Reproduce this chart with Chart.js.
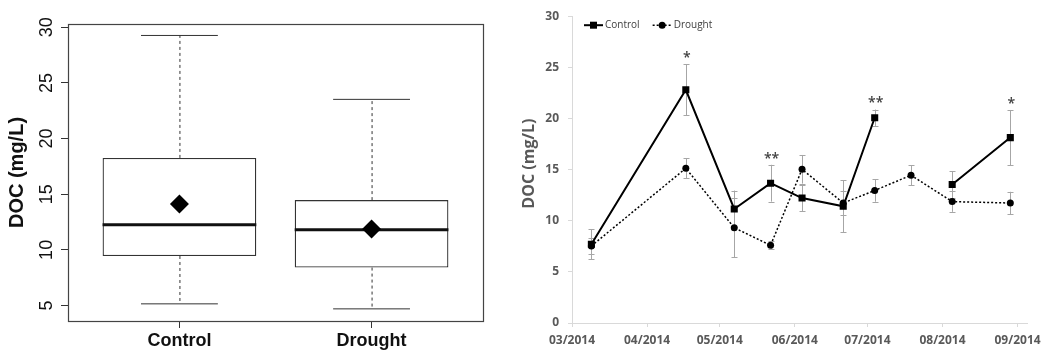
<!DOCTYPE html>
<html>
<head>
<meta charset="utf-8">
<script src="https://cdn.jsdelivr.net/npm/chart.js@4/dist/chart.umd.min.js"></script>
<style>
html, body { margin: 0; padding: 0; background: #fff; }
#wrap { position: relative; width: 1047px; height: 351px; overflow: hidden; }
#boxWrap { position: absolute; left: 0; top: 0; }
#lineWrap { position: absolute; left: 490px; top: 0; }
</style>
</head>
<body>
<div id="wrap">
  <div id="boxWrap"><canvas id="boxChart" width="495" height="351"></canvas></div>
  <div id="lineWrap"><canvas id="lineChart" width="557" height="351"></canvas></div>
</div>
<script>
// ---- left panel: boxplot of all samples ----
const groups = ['Control', 'Drought'];
const boxLow = [5.15, 4.70];     // lower whisker
const boxQ1 = [9.45, 8.41];
const boxMedian = [12.26, 11.81];
const boxQ3 = [18.26, 14.47];
const boxHigh = [29.26, 23.52];  // upper whisker
const boxMean = [14.11, 11.87];
const boxTicks = [5, 10, 15, 20, 25, 30];

// ---- right panel: time series with error bars ----
const sampleDates = ['2014-03-09', '2014-04-17', '2014-05-07', '2014-05-22', '2014-06-04',
                     '2014-06-21', '2014-07-04', '2014-07-19', '2014-08-05', '2014-08-29'];
const controlDoc = [7.70, 22.80, 11.15, 13.67, 12.22, 11.41, 20.07, null, 13.55, 18.13];
const controlErr = [1.45, 2.50, 1.80, 1.80, 1.30, 2.55, 0.80, null, 1.30, 2.70];
const droughtDoc = [7.53, 15.13, 9.31, 7.60, 15.03, 11.73, 12.96, 14.45, 11.87, 11.73];
const droughtErr = [0.75, 1.00, 2.90, 0.40, 1.40, 1.20, 1.10, 0.97, 1.00, 1.10];
const monthStarts = ['2014-03-01', '2014-04-01', '2014-05-01', '2014-06-01', '2014-07-01', '2014-08-01', '2014-09-01'];
const monthLabels = ['03/2014', '04/2014', '05/2014', '06/2014', '07/2014', '08/2014', '09/2014'];
const axisEnd = '2014-09-05';
const starIndex = [1, 3, 6, 9];
const starText = ['*', '**', '**', '*'];
const starLevel = [26.2, 16.3, 21.8, 21.7];

// days since the start of the axis (1 March)
function dayOf(s) {
    return (Date.parse(s) - Date.parse(monthStarts[0])) / 86400000;
}

// ======== boxplot ========
const boxExtras = {
    id: 'boxExtras',
    afterDatasetDraw(chart, args) {
        if (args.index !== 0) return; // right after the boxes
        const ctx = chart.ctx;
        const xs = chart.scales.x, ys = chart.scales.y;
        const bars = chart.getDatasetMeta(0).data;
        ctx.save();
        groups.forEach((g, i) => {
            const cx = xs.getPixelForValue(i + 1);
            const capL = xs.getPixelForValue(i + 0.8), capR = xs.getPixelForValue(i + 1.2);
            ctx.strokeStyle = '#333';
            ctx.lineWidth = 1;
            ctx.setLineDash([3, 3]);
            ctx.beginPath();
            ctx.moveTo(cx + 0.5, ys.getPixelForValue(boxQ3[i]));
            ctx.lineTo(cx + 0.5, ys.getPixelForValue(boxHigh[i]));
            ctx.moveTo(cx + 0.5, ys.getPixelForValue(boxQ1[i]));
            ctx.lineTo(cx + 0.5, ys.getPixelForValue(boxLow[i]));
            ctx.stroke();
            ctx.setLineDash([]);
            ctx.beginPath();
            ctx.moveTo(capL, ys.getPixelForValue(boxHigh[i]));
            ctx.lineTo(capR, ys.getPixelForValue(boxHigh[i]));
            ctx.moveTo(capL, ys.getPixelForValue(boxLow[i]));
            ctx.lineTo(capR, ys.getPixelForValue(boxLow[i]));
            ctx.stroke();
            // median
            const b = bars[i];
            ctx.strokeStyle = '#111';
            ctx.lineWidth = 3;
            ctx.beginPath();
            ctx.moveTo(b.x - b.width / 2, ys.getPixelForValue(boxMedian[i]));
            ctx.lineTo(b.x + b.width / 2, ys.getPixelForValue(boxMedian[i]));
            ctx.stroke();
        });
        ctx.restore();
    },
    afterDraw(chart) {
        const ctx = chart.ctx;
        const a = chart.chartArea;
        const ys = chart.scales.y;
        ctx.save();
        // frame round the plot
        ctx.strokeStyle = '#444';
        ctx.lineWidth = 1.2;
        ctx.strokeRect(a.left + 0.5, a.top + 0.5, a.right - a.left, a.bottom - a.top);
        // rotated y tick labels
        ctx.fillStyle = '#111';
        ctx.font = '18px "Liberation Sans"';
        ctx.textAlign = 'center';
        ctx.textBaseline = 'middle';
        boxTicks.forEach(v => {
            ctx.save();
            ctx.translate(a.left - 21, ys.getPixelForValue(v));
            ctx.rotate(-Math.PI / 2);
            ctx.fillText(String(v), 0, 0);
            ctx.restore();
        });
        // y title
        ctx.font = 'bold 20px "Liberation Sans"';
        ctx.translate(17, (a.top + a.bottom) / 2);
        ctx.rotate(-Math.PI / 2);
        ctx.fillText('DOC (mg/L)', 0, 0);
        ctx.restore();
    }
};

new Chart(document.getElementById('boxChart'), {
    type: 'bar',
    data: {
        datasets: [{
            data: groups.map((g, i) => ({ x: i + 1, y: [boxQ1[i], boxQ3[i]] })),
            backgroundColor: '#fff',
            borderColor: '#333',
            borderWidth: 1.3,
            borderSkipped: false,
            barPercentage: 1,
            categoryPercentage: 0.8,
            order: 2
        }, {
            type: 'scatter',
            data: groups.map((g, i) => ({ x: i + 1, y: boxMean[i] })),
            pointStyle: 'rectRot',
            pointRadius: 9.5,
            backgroundColor: '#000',
            borderColor: '#000',
            borderWidth: 0,
            order: 1
        }]
    },
    options: {
        responsive: false,
        animation: false,
        layout: { padding: { top: 24, right: 12, left: 0, bottom: 0 } },
        plugins: { legend: { display: false }, tooltip: { enabled: false } },
        scales: {
            x: {
                type: 'linear',
                min: 0.42,
                max: 2.58,
                offset: false,
                afterBuildTicks: s => { s.ticks = groups.map((g, i) => ({ value: i + 1 })); },
                afterFit: s => { s.height = 30; },
                ticks: {
                    callback: (v, i) => groups[i],
                    color: '#111',
                    font: { family: 'Liberation Sans', size: 18, weight: 'bold' },
                    padding: 2,
                    maxRotation: 0,
                    autoSkip: false
                },
                grid: { display: true, offset: false, drawOnChartArea: false, drawTicks: true, tickLength: 7, color: '#333' },
                border: { display: false }
            },
            y: {
                min: 3.61,
                max: 30.29,
                afterBuildTicks: s => { s.ticks = boxTicks.map(v => ({ value: v })); },
                afterFit: s => { s.width = 68; },
                ticks: { display: false },
                grid: { display: true, drawOnChartArea: false, drawTicks: true, tickLength: 7, color: '#333' },
                border: { display: false }
            }
        }
    },
    plugins: [boxExtras]
});

// ======== time series ========
const lineExtras = {
    id: 'lineExtras',
    beforeDatasetsDraw(chart) {
        // error bars under the markers
        const ctx = chart.ctx;
        const xs = chart.scales.x, ys = chart.scales.y;
        ctx.save();
        ctx.strokeStyle = '#a6a6a6';
        ctx.lineWidth = 1;
        [[controlDoc, controlErr], [droughtDoc, droughtErr]].forEach(([vals, errs]) => {
            vals.forEach((v, i) => {
                if (v === null) return;
                const x = Math.round(xs.getPixelForValue(dayOf(sampleDates[i]))) + 0.5;
                const y1 = ys.getPixelForValue(v + errs[i]);
                const y2 = ys.getPixelForValue(v - errs[i]);
                ctx.beginPath();
                ctx.moveTo(x, y1); ctx.lineTo(x, y2);
                ctx.moveTo(x - 3, Math.round(y1) + 0.5); ctx.lineTo(x + 3, Math.round(y1) + 0.5);
                ctx.moveTo(x - 3, Math.round(y2) + 0.5); ctx.lineTo(x + 3, Math.round(y2) + 0.5);
                ctx.stroke();
            });
        });
        ctx.restore();
    },
    afterDatasetsDraw(chart) {
        const ctx = chart.ctx;
        const a = chart.chartArea;
        const xs = chart.scales.x, ys = chart.scales.y;
        ctx.save();
        // significance stars
        ctx.fillStyle = '#404040';
        ctx.font = '600 14px "Open Sans"';
        ctx.textAlign = 'center';
        ctx.textBaseline = 'middle';
        starIndex.forEach((idx, k) => {
            ctx.fillText(starText[k], xs.getPixelForValue(dayOf(sampleDates[idx])) + 1, ys.getPixelForValue(starLevel[k]) + 3);
        });
        // legend
        ctx.font = '10px "Open Sans"';
        ctx.textAlign = 'left';
        let lx = a.left + 12;
        const ly = a.top + 9;
        chart.data.datasets.forEach(ds => {
            ctx.strokeStyle = '#000';
            ctx.fillStyle = '#000';
            ctx.lineWidth = ds.borderWidth;
            ctx.setLineDash(ds.borderDash || []);
            ctx.beginPath();
            ctx.moveTo(lx, ly); ctx.lineTo(lx + 19, ly);
            ctx.stroke();
            ctx.setLineDash([]);
            const mx = lx + 9.5;
            ctx.beginPath();
            if (ds.pointStyle === 'rect') {
                ctx.rect(mx - 3.5, ly - 3.5, 7, 7);
            } else {
                ctx.arc(mx, ly, 3.5, 0, Math.PI * 2);
            }
            ctx.fill();
            ctx.fillStyle = '#404040';
            ctx.fillText(ds.label, lx + 21, ly);
            lx += 21 + ctx.measureText(ds.label).width + 13;
        });
        // y title
        ctx.fillStyle = '#595959';
        ctx.font = 'bold 16px "Open Sans"';
        ctx.textAlign = 'center';
        ctx.translate(39, (a.top + a.bottom) / 2 - 6);
        ctx.rotate(-Math.PI / 2);
        ctx.fillText('DOC (mg/L)', 0, 0);
        ctx.restore();
    }
};

const tickFont = { family: 'Open Sans', size: 12, weight: 'bold' };

new Chart(document.getElementById('lineChart'), {
    type: 'line',
    data: {
        datasets: [{
            label: 'Control',
            data: sampleDates.map((d, i) => ({ x: dayOf(d), y: controlDoc[i] })),
            borderColor: '#000',
            borderWidth: 2,
            pointStyle: 'rect',
            pointRadius: 5,
            pointBackgroundColor: '#000',
            pointBorderWidth: 0,
            spanGaps: false,
            tension: 0
        }, {
            label: 'Drought',
            data: sampleDates.map((d, i) => ({ x: dayOf(d), y: droughtDoc[i] })),
            borderColor: '#000',
            borderWidth: 1.5,
            borderDash: [2, 2],
            pointStyle: 'circle',
            pointRadius: 3.5,
            pointBackgroundColor: '#000',
            pointBorderWidth: 0,
            tension: 0
        }]
    },
    options: {
        responsive: false,
        animation: false,
        layout: { padding: { top: 13, right: 17, left: 0, bottom: 0 } },
        plugins: { legend: { display: false }, tooltip: { enabled: false } },
        scales: {
            x: {
                type: 'linear',
                min: 0,
                max: dayOf(axisEnd),
                afterBuildTicks: s => { s.ticks = monthStarts.map(d => ({ value: dayOf(d) })); },
                afterFit: s => { s.height = 28; },
                ticks: {
                    callback: (v, i) => monthLabels[i],
                    color: '#595959',
                    font: tickFont,
                    padding: 6,
                    maxRotation: 0,
                    autoSkip: false
                },
                grid: { display: true, drawOnChartArea: false, drawTicks: true, tickLength: 4, color: '#d9d9d9' },
                border: { display: true, color: '#d9d9d9', width: 1 }
            },
            y: {
                min: 0,
                max: 30,
                ticks: { stepSize: 5, color: '#595959', font: tickFont, padding: 9 },
                afterFit: s => { s.width = 82; },
                grid: { display: true, drawOnChartArea: false, drawTicks: true, tickLength: 4, color: '#d9d9d9' },
                border: { display: true, color: '#d9d9d9', width: 1 }
            }
        }
    },
    plugins: [lineExtras]
});
</script>
</body>
</html>
